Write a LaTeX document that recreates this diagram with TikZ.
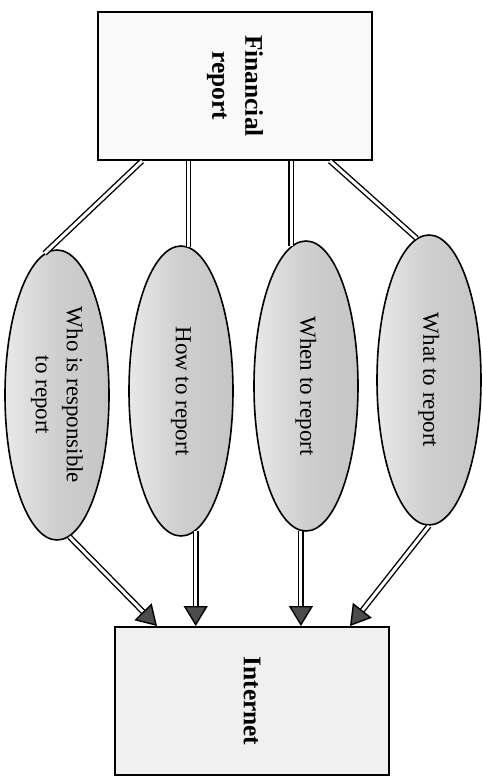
\documentclass[tikz,border=0pt]{standalone}
\usepackage{fontspec}
\setmainfont{Liberation Serif}
\usetikzlibrary{shapes.geometric,arrows.meta}

\tikzset{
    box/.style={draw, line width=1pt, rotate=-90, inner sep=0pt,
        minimum width=74pt, minimum height=137pt, align=center,
        font=\fontsize{12.7}{16.5}\selectfont\bfseries},
    topic/.style={ellipse, draw, line width=0.8pt, rotate=-90, inner sep=0pt,
        minimum width=145pt, minimum height=52pt, align=center,
        left color=gray!18, right color=gray!45, middle color=gray!38,
        font=\fontsize{11.5}{15.5}\selectfont},
    link/.style={double, line width=0.7pt, double distance=1.5pt},
    flow/.style={link, -{Triangle[length=10pt, width=12pt, fill=black!70]}}
}

\begin{document}
\begin{tikzpicture}[x=0.5pt, y=-0.5pt]
    \useasboundingbox (0,0) rectangle (482,776);

    % Top: the report itself
    \node[box, fill=gray!5] (fin) at (235,86) {Financial\\report};

    % The four questions
    \node[topic] (who)  at (57,395)  {Who is responsible\\to report};
    \node[topic] (how)  at (181,391) {How to report};
    \node[topic] (when) at (306,386) {When to report};
    \node[topic] (what) at (429,380) {What to report};

    % Bottom: the channel
    \node[box, fill=gray!12] (int) at (252,701) {Internet};

    % Links from the report to the questions
    \draw[link] ([xshift=-46.5pt]fin.east) -- (who.185);
    \draw[link] (fin.east -| how.177) -- (how.177);
    \draw[link] (fin.east -| when.186) -- (when.186);
    \draw[link] ([xshift=47.5pt]fin.east) -- (what.185);

    % Arrows from the questions to the Internet
    \draw[flow] (who.5) -- ([xshift=-47.5pt]int.west);
    \draw[flow] (how.6) -- (how.6 |- int.west);
    \draw[flow] (when.-2) -- (when.-2 |- int.west);
    \draw[flow] (what.east) -- ([xshift=49pt]int.west);
\end{tikzpicture}
\end{document}
